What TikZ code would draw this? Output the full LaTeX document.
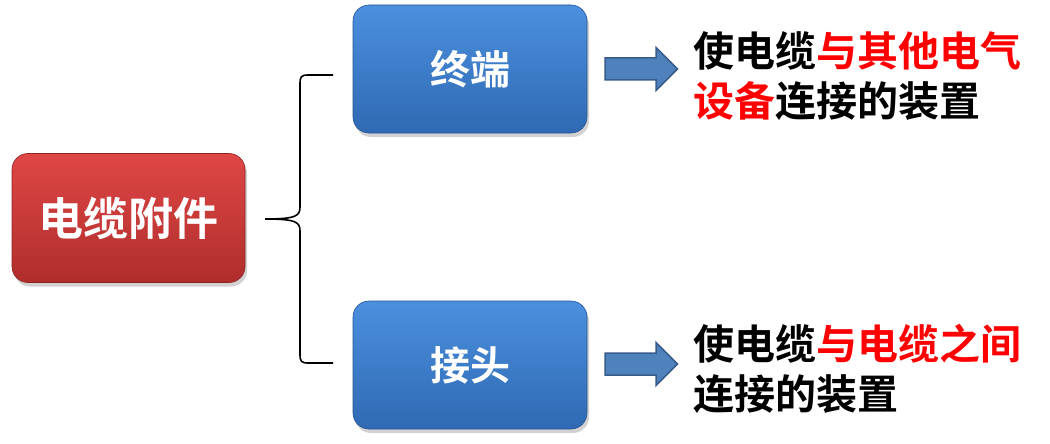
\documentclass[tikz,border=0pt]{standalone}
\usepackage{fontspec}
\setmainfont{Noto Sans CJK SC}[BoldFont={Noto Sans CJK SC Bold}]
\usetikzlibrary{shadows,calc}
\definecolor{redtop}{HTML}{DE4745}
\definecolor{redbot}{HTML}{B02D2B}
\definecolor{bluetop}{HTML}{4B90DE}
\definecolor{bluebot}{HTML}{2F69B3}
\definecolor{arrfill}{HTML}{4F81BD}
\definecolor{arrline}{HTML}{385D8A}
\definecolor{hl}{HTML}{FF0000}
\tikzset{
  redbox/.style={rounded corners=16pt, top color=redtop, bottom color=redbot, draw=redbot!80!black, line width=0.6pt,
     minimum width=233pt, minimum height=129pt, text=white, font=\bfseries\fontsize{45}{50}\selectfont,
     drop shadow={opacity=0.35, shadow xshift=2pt, shadow yshift=-4pt}},
  bluebox/.style={rounded corners=16pt, top color=bluetop, bottom color=bluebot, draw=bluebot!80!black, line width=0.6pt,
     minimum width=234pt, minimum height=128pt, text=white, font=\bfseries\fontsize{40}{46}\selectfont,
     drop shadow={opacity=0.35, shadow xshift=2pt, shadow yshift=-4pt}},
  desc/.style={anchor=west, inner sep=0pt, font=\bfseries\fontsize{41}{50}\selectfont},
  blockarrow/.style={fill=arrfill, draw=arrline, line width=1.5pt, line join=miter},
  bracestyle/.style={draw=black, line width=1.6pt}
}
\begin{document}
\begin{tikzpicture}[x=1pt,y=-1pt]
\useasboundingbox (0,0) rectangle (1050,444);
\fill[white] (0,0) rectangle (1050,444);
\node[redbox] (root) at (128.5,218) {电缆附件};
\node[bluebox] (term) at (470,69) {终端};
\node[bluebox] (joint) at (470,365) {接头};
% brace
\coordinate (tip) at (265,219);
\coordinate (btop) at (333,75);
\coordinate (bbot) at (333,363);
\draw[bracestyle] (btop) -- (308,75) .. controls (301,75) and (300,77) .. (300,84)
  -- (300,207) .. controls (300,216) and (296,219) .. (tip)
  .. controls (296,219) and (300,222) .. (300,231)
  -- (300,354) .. controls (300,361) and (301,363) .. (308,363) -- (bbot);
% arrows
\coordinate (a1) at (605,69);
\coordinate (a2) at (605,364);
\foreach \a in {a1,a2}{
  \draw[blockarrow] ($(\a)+(0,-11)$) -- ++(51,0) -- ++(0,-10.5) -- ++(21.5,21.5) -- ++(-21.5,21.5) -- ++(0,-10.5) -- ++(-51,0) -- cycle;
}
\node[desc] (d1a) at (693,51) {使电缆\textcolor{hl}{与其他电气}};
\node[desc] (d1b) at (693,101) {\textcolor{hl}{设备}连接的装置};
\node[desc] (d2a) at (693,344) {使电缆\textcolor{hl}{与电缆之间}};
\node[desc] (d2b) at (693,394) {连接的装置};
\end{tikzpicture}
\end{document}
